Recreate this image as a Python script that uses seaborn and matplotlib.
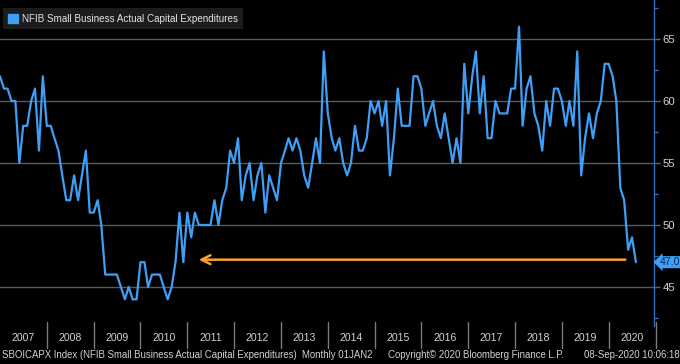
import pandas as pd
import matplotlib
matplotlib.use("Agg")
import matplotlib.pyplot as plt
import matplotlib.dates as mdates
import matplotlib.transforms as mtransforms
from matplotlib.patches import Patch
from matplotlib.ticker import AutoMinorLocator
import seaborn as sns

# data (monthly, Jan 2007 - Aug 2020)
start_month = "2007-01-01"
capex = [
    62, 61, 61, 60, 60, 55, 58, 58, 60, 61, 56, 62,   # 2007
    58, 58, 57, 56, 54, 52, 52, 54, 52, 54, 56, 51,   # 2008
    51, 52, 50, 46, 46, 46, 46, 45, 44, 45, 44, 44,   # 2009
    47, 47, 45, 46, 46, 46, 45, 44, 45, 47, 51, 47,   # 2010
    51, 49, 51, 50, 50, 50, 50, 52, 50, 52, 53, 56,   # 2011
    55, 57, 52, 54, 55, 52, 54, 55, 51, 54, 53, 52,   # 2012
    55, 56, 57, 56, 57, 56, 54, 53, 55, 57, 55, 64,   # 2013
    59, 57, 56, 57, 55, 54, 55, 58, 56, 56, 57, 60,   # 2014
    59, 60, 58, 60, 54, 57, 61, 58, 58, 58, 62, 62,   # 2015
    61, 58, 59, 60, 58, 57, 59, 57, 55, 57, 55, 63,   # 2016
    59, 62, 64, 59, 62, 57, 57, 60, 59, 59, 59, 61,   # 2017
    61, 66, 58, 61, 62, 59, 58, 56, 60, 58, 61, 61,   # 2018
    60, 58, 60, 58, 64, 54, 57, 59, 57, 59, 60, 63,   # 2019
    63, 62, 60, 53, 52, 48, 49, 47,                   # 2020
]
years = list(range(2007, 2021))
y_ticks = [45, 50, 55, 60, 65]
series_name = "NFIB Small Business Actual Capital Expenditures"
last_label = "47.0"
last_value = 47.0
arrow_level = 47.2
arrow_tail = "2020-06-01"
arrow_head = "2011-03-10"

footer_left = "SBOICAPX Index (NFIB Small Business Actual Capital Expenditures)  Monthly 01JAN2"
footer_mid = "Copyright\u00a9 2020 Bloomberg Finance L.P."
footer_right = "08-Sep-2020 10:06:18"

BLUE = "#3f9ef5"
ORANGE = "#f7a12b"
GRID = "#5a5a5a"
TXT = "#d2d2d2"
AXIS = "#2f6fb5"

dates = pd.date_range(start_month, periods=len(capex), freq="MS")
df = pd.DataFrame({"date": dates, "value": capex})

sns.set_style("dark")
plt.rcParams["font.family"] = ["Liberation Sans", "DejaVu Sans"]

fig = plt.figure(figsize=(6.8, 3.64), dpi=100, facecolor="black")
ax = fig.add_axes([0, 0.1044, 0.9618, 0.8956])
ax.set_facecolor("black")

sns.lineplot(data=df, x="date", y="value", ax=ax, color=BLUE, lw=1.6)

ax.set_xlim(pd.Timestamp("2007-01-01"), pd.Timestamp("2020-12-20"))
ax.set_ylim(41.85, 68.15)
ax.set_xlabel("")
ax.set_ylabel("")

# grid + axes
ax.grid(False)
for v in y_ticks:
    ax.axhline(v, color=GRID, lw=1, zorder=0)
for s in ["top", "left", "bottom"]:
    ax.spines[s].set_visible(False)
ax.spines["right"].set_color(AXIS)
ax.spines["right"].set_linewidth(1)
ax.yaxis.tick_right()
ax.set_yticks(y_ticks)
ax.yaxis.set_minor_locator(AutoMinorLocator(2))
ax.tick_params(axis="y", which="both", direction="out", color=AXIS, labelcolor=TXT,
               labelsize=8.2, length=4, width=1, pad=2)
ax.tick_params(axis="y", which="minor", length=3)
ax.tick_params(axis="x", bottom=False, labelbottom=False)

# year labels and separators under the plot
trans = mtransforms.blended_transform_factory(ax.transData, ax.transAxes)
for y in years:
    mid = mdates.date2num(pd.Timestamp(f"{y}-07-02"))
    ax.text(mid, -0.036, str(y), transform=trans, ha="center", va="center",
            color=TXT, fontsize=7.6)
for y in years[1:] + [years[-1] + 1]:
    xs = mdates.date2num(pd.Timestamp(f"{y}-01-01"))
    ax.plot([xs, xs], [0.012, -0.066], transform=trans, color="#7a7a7a",
            lw=1, clip_on=False)

# orange arrow
ax.annotate("", xy=(pd.Timestamp(arrow_head), arrow_level),
            xytext=(pd.Timestamp(arrow_tail), arrow_level),
            arrowprops=dict(arrowstyle="->", color=ORANGE, lw=1.8, mutation_scale=16))

# last value tag
tag_trans = mtransforms.blended_transform_factory(ax.transAxes, ax.transData)
ax.text(1.009, last_value, last_label, transform=tag_trans, ha="left", va="center",
        fontsize=7.6, color="#0a2a55",
        bbox=dict(boxstyle="larrow,pad=0.1", fc=BLUE, ec="none"), clip_on=False)

# legend
leg = ax.legend(handles=[Patch(color=BLUE, label=series_name)], loc="upper left",
                bbox_to_anchor=(0.004, 0.975), frameon=True, facecolor="#1c1c1c",
                edgecolor="none", fancybox=False, fontsize=7.1, labelcolor="#e6e6e6",
                handlelength=1.05, handleheight=1.05, handletextpad=0.35,
                borderpad=0.55, borderaxespad=0)
leg.get_frame().set_alpha(1)

# footer
fig.text(0.003, 0.024, footer_left, color=TXT, fontsize=6.9, ha="left", va="center")
fig.text(0.571, 0.024, footer_mid, color=TXT, fontsize=6.9, ha="left", va="center")
fig.text(0.999, 0.024, footer_right, color=TXT, fontsize=6.9, ha="right", va="center")

fig.savefig("out.png", dpi=100, facecolor="black")
